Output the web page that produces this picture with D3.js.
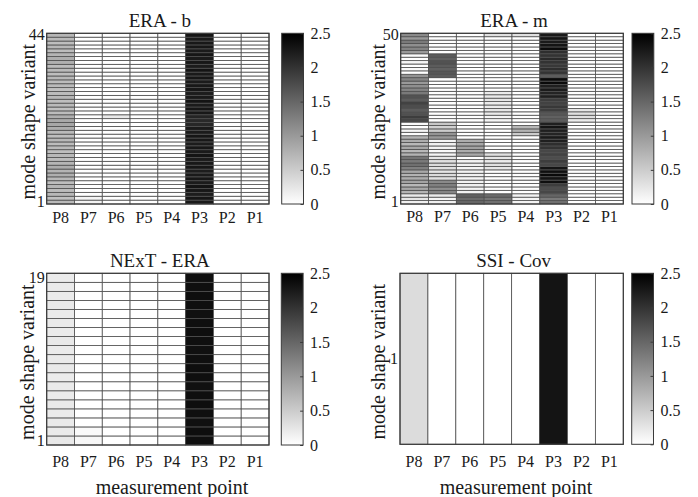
<!DOCTYPE html>
<html lang="en">
<head>
<meta charset="UTF-8">
<title>Mode shape variants per measurement point</title>
<script src="https://d3js.org/d3.v7.min.js"></script>
<style>
  body { margin: 0; background: #fff; }
  text { font-family: "Liberation Serif", "Times New Roman", serif; fill: #1a1a1a; }
  .cell { stroke: #4f4f4f; stroke-width: 0.8; }
  .frame { fill: none; stroke: #3a3a3a; stroke-width: 1.2; }
</style>
</head>
<body>
<svg id="chart" width="698" height="497"></svg>

<script>
    // measurement points, left to right
    const points = ["P8", "P7", "P6", "P5", "P4", "P3", "P2", "P1"];
    const titles = ["ERA - b", "ERA - m", "NExT - ERA", "SSI - Cov"];
    const cbTicks = [0, 0.5, 1, 1.5, 2, 2.5];
    const cbTickLabels = ["0", "0.5", "1", "1.5", "2", "2.5"];

    // values per column (P8 ... P1), each listed from variant 1 (bottom) upwards
    const eraB = [
        [0.68,0.62,0.7,0.66,0.72,0.64,0.7,0.78,0.74,0.8,0.72,0.66,0.7,0.64,0.68,0.66,0.7,0.64,0.68,0.8,0.86,0.84,0.78,0.66,0.62,0.68,0.64,0.7,0.66,0.62,0.68,0.66,0.7,0.64,0.68,0.66,0.78,0.8,0.74,0.66,0.7,0.64,0.68,0.72],
        [0.12,0.1,0,0,0,0,0,0,0,0,0,0,0,0,0,0,0,0,0,0,0,0,0,0,0,0,0,0,0,0,0,0,0,0,0,0,0,0,0,0,0,0,0,0],
        [0,0,0,0,0,0,0,0,0,0,0,0,0,0,0,0,0,0,0,0,0,0,0.22,0,0,0,0,0,0,0,0,0,0,0,0,0,0,0,0,0,0,0,0,0],
        [0,0,0,0,0,0,0,0,0,0,0,0,0,0,0,0,0,0,0,0,0,0,0,0,0,0,0,0,0,0,0,0,0,0,0,0,0,0,0,0,0,0,0,0],
        [0,0,0,0,0,0,0,0,0,0,0,0,0,0,0,0,0,0,0,0,0,0,0,0,0,0,0,0,0,0,0,0,0,0,0,0,0,0,0,0,0,0,0,0],
        [2.25,2.28,2.22,2.26,2.3,2.24,2.27,2.25,2.22,2.28,2.26,2.24,2.3,2.25,2.27,2.23,2.26,2.28,2.24,2.25,2.12,2.1,2.15,2.26,2.28,2.24,2.3,2.25,2.22,2.27,2.26,2.24,2.28,2.25,2.3,2.23,2.26,2.25,2.28,2.24,2.27,2.26,2.25,2.28],
        [0,0,0,0,0,0,0,0,0,0,0,0,0,0,0,0,0,0,0,0,0,0,0,0,0,0,0,0,0,0,0,0,0,0,0,0,0,0,0,0,0,0,0,0],
        [0,0,0,0,0,0,0,0,0,0,0,0,0,0,0,0,0,0,0,0,0,0,0,0,0,0,0,0,0,0,0,0,0,0,0,0,0,0,0,0,0,0,0,0]
    ];

    // 50 variants, written ten per line
    const eraM = [
        [0.15,0.25,0.2,0.75,0.85,0.7,0.9,0.8,0.75,0.85,
         1.25,1.4,1.3,1.35,0.75,0.7,0.85,0.7,0.8,0.75,
         0.05,0.1,0,0.05,1.8,1.9,1.7,1.6,1.75,1.85,
         1.6,1.7,1.3,1.2,1.1,1.0,1.2,1.05,0,0.05,
         0,0.1,0,0.05,1.0,1.2,1.1,1.3,1.0,1.15],
        [0.15,0.1,0.2,1.2,1.1,1.25,1.15,0.3,0.35,0.25,
         0.3,0.35,0.3,0.25,0.1,0.05,0.1,0.15,0.1,1.0,
         1.05,0.5,0.45,0.55,0,0,0,0,0,0,
         0,0,0,0,0,0,0,1.6,1.65,1.55,
         1.6,1.7,1.55,1.6,0,0,0,0,0,0],
        [1.5,1.45,1.55,0.12,0.1,0.15,0.12,0.1,0.15,0.12,
         0.1,0.15,0.12,0,0.85,0.8,0.9,0.85,0.8,0,
         0,0,0,0,0,0,0,0,0,0,
         0,0,0,0,0,0,0,0,0,0,
         0,0,0,0,0,0,0,0,0,0],
        [1.4,1.35,1.45,0,0,0,0,0,0,0,
         0.25,0.3,0.2,0.25,0.3,0,0,0,0,0,
         0,0,0,0,0.1,0.1,0.2,0.25,0.2,0.2,
         0.25,0.2,0.2,0,0,0,0,0,0,0,
         0,0,0,0,0,0,0,0,0,0.3],
        [0.12,0.1,0.12,0,0,0,0,0,0,0,
         0,0,0,0,0,0,0,0,0,0,
         0.5,0.75,0.7,0,0,0,0,0,0,0,
         0,0,0,0,0,0,0,0,0,0,
         0,0,0,0,0,0,0,0,0,0.3],
        [1.4,1.3,1.5,1.8,1.75,1.9,2.35,2.3,2.4,2.35,
         2.3,1.8,1.9,1.75,1.85,1.8,2.0,2.05,2.2,2.25,
         2.15,2.2,2.3,2.2,1.6,1.55,1.65,1.9,1.95,1.85,
         1.9,2.2,2.15,2.25,2.2,2.4,2.4,1.6,2.0,2.05,
         1.95,2.0,2.1,2.0,2.05,2.4,2.3,2.25,2.3,2.25],
        [0,0,0,0,0,0,0,0,0,0,
         0,0,0,0,0,0,0,0,0,0,
         0,0,0,0,0.2,0.3,0.3,0.25,0,0,
         0,0,0,0,0,0,0,0,0,0,
         0,0,0,0,0,0,0,0,0,0],
        [0,0,0,0,0,0,0,0,0,0,
         0,0,0,0,0,0,0,0,0,0,
         0,0,0,0,0,0,0,0,0,0,
         0,0,0,0,0,0,0,0,0,0,
         0,0,0,0,0,0,0,0,0,0]
    ];

    const nextEra = [
        [0.22,0.2,0.21,0.2,0.22,0.2,0.21,0.2,0.22,0.21,0.2,0.22,0.2,0.21,0.2,0.22,0.2,0.21,0.2],
        [0.08,0.05,0,0,0,0,0,0,0,0,0,0,0,0,0,0,0,0,0],
        [0,0,0,0,0,0,0,0,0,0,0,0,0,0,0,0,0,0,0],
        [0,0,0,0,0,0,0,0,0,0,0,0,0,0,0,0,0,0,0],
        [0,0,0,0,0,0,0,0,0,0,0,0,0,0,0,0,0,0,0],
        [2.35,2.36,2.34,2.35,2.36,2.35,2.34,2.35,2.36,2.35,2.34,2.35,2.36,2.35,2.34,2.35,2.36,2.35,2.35],
        [0,0,0,0,0,0,0,0,0,0,0,0,0,0,0,0,0,0,0],
        [0,0,0,0,0,0,0,0,0,0,0,0,0,0,0,0,0,0,0]
    ];

    const ssiCov = [[0.34], [0], [0], [0], [0], [2.3], [0], [0]];

    const svg = d3.select("#chart");
    const color = d3.scaleLinear().domain([0, 2.5]).range(["#ffffff", "#000000"]);

    // one shared gradient for the colorbars
    const grad = svg.append("defs").append("linearGradient")
        .attr("id", "cbgrad").attr("x1", 0).attr("y1", 1).attr("x2", 0).attr("y2", 0);
    grad.selectAll("stop").data(cbTicks).join("stop")
        .attr("offset", d => d / 2.5)
        .attr("stop-color", d => color(d));

    const panels = [
        {title: titles[0], data: eraB,    x0: 46.7,  x1: 269,   y0: 33.3,  y1: 204,   cb: 281.7, tickDy: 13, ylab: 19,   xlabel: null},
        {title: titles[1], data: eraM,    x0: 400.7, x1: 623.3, y0: 33.3,  y1: 204,   cb: 632,   tickDy: 12, ylab: 22.5, xlabel: null},
        {title: titles[2], data: nextEra, x0: 46.7,  x1: 269,   y0: 273.3, y1: 445,   cb: 281.3, tickDy: 16, ylab: 20,   xlabel: 172},
        {title: titles[3], data: ssiCov,  x0: 400,   x1: 623.3, y0: 273.3, y1: 444.3, cb: 631.7, tickDy: 16, ylab: 22,   xlabel: 516}
    ];

    panels.forEach(p => {
        const n = p.data[0].length;
        const rows = d3.range(1, n + 1);
        const x = d3.scaleBand().domain(points).range([p.x0, p.x1]);
        const y = d3.scaleBand().domain(rows).range([p.y1, p.y0]);

        const cells = [];
        p.data.forEach((col, i) => col.forEach((v, j) => cells.push({pt: points[i], row: j + 1, v})));

        const g = svg.append("g");
        g.selectAll("rect.cell").data(cells).join("rect")
            .attr("class", "cell")
            .attr("x", d => x(d.pt))
            .attr("y", d => y(d.row))
            .attr("width", x.bandwidth())
            .attr("height", y.bandwidth())
            .attr("fill", d => color(d.v));

        g.append("rect").attr("class", "frame")
            .attr("x", p.x0).attr("y", p.y0)
            .attr("width", p.x1 - p.x0).attr("height", p.y1 - p.y0);

        // x axis labels
        const xa = g.append("g")
            .attr("transform", `translate(0,${p.y1})`)
            .call(d3.axisBottom(x).tickSize(0).tickPadding(p.tickDy - 5));
        xa.select(".domain").remove();
        xa.selectAll("text").style("font-size", "16px").style("font-family", null).attr("fill", null);

        // y axis: first and last variant only
        const ya = g.append("g")
            .attr("transform", `translate(${p.x0},0)`)
            .call(d3.axisLeft(y).tickValues(n > 1 ? [1, n] : [1]).tickSize(0).tickPadding(2));
        ya.select(".domain").remove();
        ya.selectAll("text").style("font-size", "16px").style("font-family", null).attr("fill", null);

        g.append("text")
            .attr("x", (p.x0 + p.x1) / 2 + 2)
            .attr("y", p.y0 - 12.5)
            .attr("dy", "0.35em")
            .attr("text-anchor", "middle")
            .style("font-size", "19px")
            .text(p.title);

        g.append("text")
            .attr("transform", `translate(${p.x0 - p.ylab},${(p.y0 + p.y1) / 2 + 3}) rotate(-90)`)
            .attr("dy", "0.35em")
            .attr("text-anchor", "middle")
            .style("font-size", "20px")
            .text("mode shape variant");

        if (p.xlabel) {
            g.append("text")
                .attr("x", p.xlabel)
                .attr("y", 486.5)
                .attr("dy", "0.35em")
                .attr("text-anchor", "middle")
                .style("font-size", "20px")
                .text("measurement point");
        }

        // colorbar
        const cw = 21.8;
        const cy = d3.scaleLinear().domain([0, 2.5]).range([p.y1, p.y0]);
        g.append("rect")
            .attr("x", p.cb).attr("y", p.y0)
            .attr("width", cw).attr("height", p.y1 - p.y0)
            .attr("fill", "url(#cbgrad)")
            .attr("stroke", "#3a3a3a").attr("stroke-width", 1);
        const ca = g.append("g")
            .attr("transform", `translate(${p.cb + cw},0)`)
            .call(d3.axisRight(cy).tickValues(cbTicks).tickSize(-3).tickPadding(7)
                .tickFormat((d, i) => cbTickLabels[i]));
        ca.select(".domain").remove();
        ca.selectAll("line").attr("stroke", "#3a3a3a");
        ca.selectAll("text").style("font-size", "16px").style("font-family", null).attr("fill", null);
    });
</script>
</body>
</html>
